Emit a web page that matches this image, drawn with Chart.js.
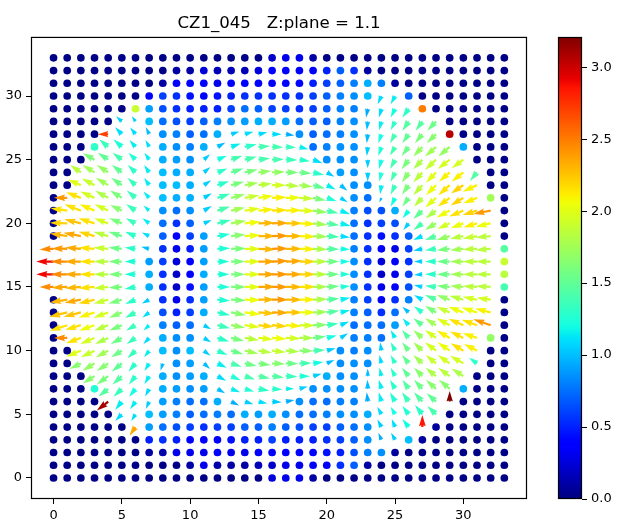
<!DOCTYPE html>
<html>
<head>
<meta charset="utf-8">
<style>
  body { margin: 0; background: #fff; }
  #wrap { position: relative; width: 621px; height: 528px; }
  canvas { position: absolute; top: 0; }
  #quiver { left: 0; }
  #colorbar { left: 540px; }
</style>
</head>
<body>
<div id="wrap">
  <canvas id="quiver" width="621" height="528"></canvas>
  <canvas id="colorbar" width="81" height="528"></canvas>
</div>
<script src="https://cdn.jsdelivr.net/npm/chart.js@4"></script>
<script>
const title = "CZ1_045   Z:plane = 1.1";
const xValues = [0,1,2,3,4,5,6,7,8,9,10,11,12,13,14,15,16,17,18,19,20,21,22,23,24,25,26,27,28,29,30,31,32,33];
const yValues = [33,32,31,30,29,28,27,26,25,24,23,22,21,20,19,18,17,16,15,14,13,12,11,10,9,8,7,6,5,4,3,2,1,0];
const axisTicks = [0,5,10,15,20,25,30];
const barTicks = [0,0.5,1,1.5,2,2.5,3];
const barRange = [0,3.21];

// colour value per grid point, top row (y=33) first
const colorRows = [
  [.02,.02,.02,.02,.02,.02,.02,.02,.02,.02,.02,.02,.02,.02,.02,.02,.2,.3,.3,.1,.02,.02,.02,.02,.02,.02,.02,.02,.02,.02,.02,.02,.02,.02],
  [.02,.02,.02,.02,.02,.02,.02,.02,.02,.1,.1,.25,.15,.15,.15,.25,.35,.35,.35,.4,.5,.7,.55,.1,.02,.02,.02,.02,.02,.02,.02,.02,.02,.02],
  [.02,.02,.02,.02,.02,.02,.02,.02,.1,.35,.35,.35,.3,.35,.35,.35,.4,.4,.4,.5,.6,.7,.8,.95,.8,.08,.02,.02,.02,.02,.02,.02,.02,.02],
  [.02,.02,.02,.02,.02,.02,.02,.35,.6,.55,.45,.4,.45,.5,.55,.55,.55,.55,.55,.6,.7,.8,.85,1.0,1.1,1.15,.7,.02,.02,.02,.02,.02,.02,.02],
  [.02,.02,.02,.02,.02,.02,1.9,.9,.65,.55,.5,.5,.5,.6,.75,.7,.6,.6,.55,.6,.7,.8,.8,.95,1.1,1.2,1.3,2.5,.02,.02,.02,.02,.02,.02],
  [.02,.02,.02,.02,.02,1.05,1.05,1.0,.75,.65,.6,.7,.8,.85,.9,.95,.95,.9,.75,.7,.7,.8,.85,1.0,1.15,1.3,1.45,1.45,1.55,.02,.02,.02,.02,.02],
  [.02,.02,.02,.02,2.7,1.1,1.1,1.0,.85,.8,.7,.75,.95,1.05,1.1,1.1,1.1,.95,.85,.7,.75,.8,.85,1.0,1.2,1.4,1.5,1.6,1.65,3.05,.02,.02,.02,.02],
  [.02,.02,.02,1.3,1.35,1.25,1.15,1.1,.95,.85,.8,.95,1.0,1.15,1.3,1.4,1.4,1.35,1.15,.75,.8,.85,.85,1.05,1.25,1.4,1.55,1.7,1.75,1.7,.95,.02,.02,.02],
  [.02,.02,.02,1.6,1.5,1.4,1.25,1.15,.95,.9,.85,1.05,1.2,1.4,1.4,1.4,1.4,1.35,1.3,1.1,.85,.85,.85,1.05,1.2,1.4,1.6,1.8,1.9,1.95,1.95,.02,.02,.02],
  [.02,.02,1.85,1.75,1.7,1.5,1.3,1.15,1.0,.95,.95,1.05,1.3,1.5,1.6,1.7,1.7,1.6,1.55,1.3,1.05,.9,.85,1.05,1.25,1.4,1.65,1.85,2.0,2.1,2.1,1.45,.02,.02],
  [.02,.02,2.0,1.9,1.75,1.55,1.35,1.15,1.0,1.0,.95,1.05,1.3,1.6,1.75,1.85,1.95,1.85,1.75,1.5,1.15,1.0,.85,.85,1.15,1.35,1.6,1.85,2.05,2.15,2.2,2.1,.02,.02],
  [.02,2.4,2.15,1.95,1.8,1.6,1.35,1.15,1.0,.95,.95,1.05,1.35,1.7,1.9,2.05,2.1,2.05,1.9,1.6,1.25,1.05,.85,.75,1.0,1.2,1.55,1.85,2.0,2.15,2.2,2.1,1.75,.02],
  [.02,2.15,2.15,2.1,1.95,1.65,1.35,1.15,.85,.75,.85,1.05,1.4,1.75,2.0,2.1,2.15,2.1,2.0,1.7,1.4,1.15,.8,.65,.65,.95,1.2,1.5,1.8,2.05,2.15,2.2,2.4,.02],
  [.02,2.2,2.25,2.15,1.95,1.6,1.35,1.15,.75,.55,.7,1.05,1.35,1.75,2.05,2.3,2.35,2.25,2.1,1.75,1.45,1.15,.75,.55,.6,.65,1.05,1.4,1.7,1.95,2.05,2.1,2.05,.02],
  [.02,2.3,2.35,2.2,1.85,1.55,1.3,1.1,.7,.4,.6,.9,1.25,1.65,2.05,2.3,2.4,2.3,2.1,1.75,1.4,1.1,.75,.55,.45,.55,.7,1.1,1.45,1.7,1.85,1.9,1.85,.02],
  [2.45,2.4,2.35,2.15,1.9,1.55,1.3,1.0,.55,.3,.5,.9,1.25,1.6,2.0,2.3,2.4,2.3,2.1,1.8,1.45,1.2,.8,.55,.35,.3,.6,1.05,1.35,1.6,1.75,1.85,1.85,1.45],
  [2.9,2.45,2.35,2.15,1.85,1.6,1.25,.9,.6,.25,.35,.9,1.25,1.6,2.0,2.35,2.4,2.35,2.2,1.85,1.55,1.2,.85,.55,.25,.35,.55,1.05,1.3,1.55,1.75,1.85,1.85,1.9],
  [2.9,2.45,2.35,2.15,1.85,1.6,1.25,.95,.55,.2,.4,.95,1.25,1.6,2.0,2.35,2.4,2.35,2.2,1.85,1.55,1.25,.85,.55,.2,.3,.6,1.05,1.3,1.55,1.75,1.85,1.85,1.85],
  [2.45,2.35,2.3,2.15,1.9,1.6,1.3,.95,.55,.2,.45,.9,1.25,1.6,2.0,2.35,2.4,2.3,2.15,1.8,1.55,1.25,.85,.55,.3,.35,.65,1.05,1.35,1.6,1.75,1.85,1.85,1.4],
  [.02,2.3,2.35,2.2,1.9,1.6,1.3,1.05,.55,.3,.55,.9,1.25,1.6,2.05,2.3,2.4,2.3,2.1,1.8,1.45,1.15,.8,.6,.4,.55,.8,1.1,1.45,1.7,1.85,1.95,1.95,.02],
  [.02,2.25,2.25,2.1,1.95,1.65,1.35,1.1,.65,.5,.6,.95,1.3,1.65,2.05,2.25,2.35,2.25,2.05,1.75,1.45,1.15,.8,.7,.55,.75,1.0,1.3,1.6,1.9,2.05,2.05,2.1,.02],
  [.02,2.15,2.15,2.05,1.85,1.6,1.35,1.15,.8,.7,.75,1.05,1.35,1.7,2.0,2.2,2.2,2.1,1.95,1.65,1.35,1.1,.75,.75,.75,.9,1.15,1.5,1.75,2.0,2.15,2.15,2.4,.02],
  [.02,2.45,2.15,1.95,1.8,1.55,1.35,1.1,.95,.85,.85,1.05,1.3,1.6,1.85,2.0,2.05,1.95,1.8,1.55,1.2,1.05,.8,.8,.75,1.15,1.45,1.7,1.95,2.1,2.15,2.1,1.7,.02],
  [.02,.02,2.0,1.9,1.75,1.55,1.35,1.15,1.0,.85,1.0,1.05,1.3,1.55,1.75,1.85,1.9,1.8,1.65,1.4,1.05,.85,.8,.85,1.05,1.3,1.55,1.75,1.95,2.05,2.15,2.1,.02,.02],
  [.02,.02,1.65,1.7,1.65,1.5,1.3,1.15,1.0,.85,.9,1.0,1.15,1.4,1.55,1.6,1.65,1.55,1.4,1.2,1.0,.85,.85,.85,1.1,1.3,1.5,1.75,1.9,1.95,1.95,1.3,.02,.02],
  [.02,.02,.02,1.65,1.6,1.45,1.3,1.15,.95,.85,.9,.95,1.1,1.25,1.4,1.45,1.45,1.35,1.25,1.05,.95,.85,.85,1.0,1.15,1.3,1.5,1.65,1.8,1.85,1.8,.02,.02,.02],
  [.02,.02,.02,1.25,1.45,1.35,1.2,1.1,.95,.9,.85,.9,1.0,1.15,1.25,1.3,1.3,1.15,1.05,.85,.85,.85,.85,1.0,1.15,1.3,1.45,1.55,1.65,1.65,.95,.02,.02,.02],
  [.02,.02,.02,.02,3.1,1.15,1.15,1.05,.9,.8,.75,.75,.95,.95,1.05,1.1,1.05,.95,.85,.75,.75,.8,.8,.95,1.15,1.25,1.35,1.45,1.5,3.2,.02,.02,.02,.02],
  [.02,.02,.02,.02,.02,1.1,1.1,1.0,.9,.8,.7,.75,.8,.75,.95,.9,.95,.85,.75,.75,.8,.85,.85,.95,1.1,1.2,1.25,1.3,1.4,.02,.02,.02,.02,.02],
  [.02,.02,.02,.02,.02,.02,2.35,.9,.75,.65,.6,.55,.6,.6,.7,.7,.8,.7,.65,.6,.6,.7,.75,.85,1.05,1.1,1.2,2.85,.08,.02,.02,.02,.02,.02],
  [.02,.02,.02,.02,.02,.02,.02,.5,.55,.5,.4,.4,.4,.45,.5,.5,.6,.5,.5,.5,.55,.6,.7,.85,.95,1.05,1.0,.1,.02,.02,.02,.02,.02,.02],
  [.02,.02,.02,.02,.02,.02,.02,.1,.12,.3,.3,.3,.35,.3,.3,.35,.35,.35,.35,.4,.45,.5,.65,.8,.85,.08,.02,.02,.02,.02,.02,.02,.02,.02],
  [.02,.02,.02,.02,.02,.02,.02,.02,.02,.02,.1,.3,.12,.1,.1,.15,.2,.3,.3,.35,.4,.55,.7,.1,.02,.02,.02,.02,.02,.02,.02,.02,.02,.02],
  [.02,.02,.02,.02,.02,.02,.02,.02,.02,.02,.02,.02,.02,.02,.02,.02,.25,.3,.3,.1,.02,.02,.02,.02,.02,.02,.02,.02,.02,.02,.02,.02,.02,.02]
];

// arrow x component, same order; 0,0 means the point is only a dot
const uRows = [
  [0,0,0,0,0,0,0,0,0,0,0,0,0,0,0,0,0,0,0,0,0,0,0,0,0,0,0,0,0,0,0,0,0,0],
  [0,0,0,0,0,0,0,0,0,0,0,0,0,0,0,0,0,0,0,0,0,0,0,0,0,0,0,0,0,0,0,0,0,0],
  [0,0,0,0,0,0,0,0,0,0,0,0,0,0,0,0,0,0,0,0,0,0,0,0,0,0,0,0,0,0,0,0,0,0],
  [0,0,0,0,0,0,0,0,0,0,0,0,0,0,0,0,0,0,0,0,0,0,0,0,-11,-13,0,0,0,0,0,0,0,0],
  [0,0,0,0,0,0,0,0,0,0,0,0,0,0,0,0,0,0,0,0,0,0,0,-5,-7,-13,-19,0,0,0,0,0,0,0],
  [0,0,0,0,0,-17,-11,0,0,0,0,0,0,0,0,0,0,0,0,0,0,0,0,-3,-7,-13,-19,-20,-26,0,0,0,0,0],
  [0,0,0,0,-31,-20,-16,-10,0,0,0,0,0,25,26,27,29,26,0,0,0,0,0,-3,-9,-15,-19,-22,-28,0,0,0,0,0],
  [0,0,0,0,-27,-25,-18,-11,0,0,0,0,24,29,36,35,34,31,27,0,0,0,0,-3,-9,-15,-21,-27,-33,-34,0,0,0,0],
  [0,0,0,-35,-31,-28,-21,-14,0,0,0,19,28,34,36,35,36,35,32,28,0,0,0,0,-7,-15,-21,-27,-33,-36,-35,0,0,0],
  [0,0,-32,-36,-34,-30,-23,-15,0,0,0,20,30,37,39,39,39,38,37,33,23,0,0,0,-6,-13,-20,-27,-30,-32,-35,-21,0,0],
  [0,0,-40,-38,-37,-32,-24,-15,0,0,0,22,35,39,41,41,42,41,40,36,27,21,0,0,-4,-13,-20,-27,-30,-34,-37,-43,0,0],
  [0,-40,-44,-43,-39,-35,-26,-17,0,0,0,24,38,42,44,45,44,45,44,39,30,22,0,0,-6,-13,-19,-25,-32,-36,-38,-41,0,0],
  [0,-50,-49,-45,-41,-35,-28,-17,0,0,0,24,38,42,46,47,46,48,47,43,35,29,0,0,0,0,-18,-27,-31,-39,-43,-43,-52,0],
  [0,-52,-50,-48,-42,-38,-29,-20,0,0,0,24,40,45,48,50,49,50,49,43,38,31,0,0,0,0,-16,-27,-33,-37,-38,-41,-45,0],
  [0,-52,-52,-48,-44,-40,-31,-22,0,0,0,0,38,43,48,52,49,50,49,44,38,29,0,0,0,0,0,-27,-33,-39,-40,-43,-45,0],
  [-42,-47,-47,-48,-44,-40,-33,-24,0,0,0,0,38,45,48,52,49,50,49,44,38,29,0,0,0,0,0,-27,-33,-39,-40,-43,-45,0],
  [-52,-50,-49,-45,-44,-40,-33,0,0,0,0,0,36,42,48,52,49,50,49,44,38,29,0,0,0,0,0,-25,-33,-39,-40,-43,-45,0],
  [-52,-50,-49,-45,-44,-40,-33,0,0,0,0,0,36,42,48,52,49,50,49,44,38,29,0,0,0,0,0,-25,-33,-39,-40,-43,-45,0],
  [-42,-47,-47,-48,-44,-40,-33,0,0,0,0,0,38,45,48,52,49,50,49,44,38,29,0,0,0,0,0,-25,-33,-39,-40,-43,-45,0],
  [0,-52,-49,-48,-44,-40,-31,-22,0,0,0,0,38,45,48,50,49,50,49,44,38,29,0,0,0,0,0,-25,-33,-39,-42,-43,-42,0],
  [0,-54,-52,-48,-44,-38,-31,-20,0,0,0,0,38,45,48,50,49,50,49,44,38,29,0,0,0,0,-19,-25,-33,-39,-45,-46,-47,0],
  [0,-52,-47,-46,-42,-37,-28,-17,0,0,0,22,38,42,46,47,46,48,47,43,35,26,0,0,0,0,-18,-27,-33,-39,-45,-46,-52,0],
  [0,-40,-44,-43,-39,-33,-26,-17,0,0,0,22,35,39,43,45,44,45,44,39,30,23,0,0,0,-13,-20,-27,-33,-39,-40,-43,0,0],
  [0,0,-44,-41,-37,-32,-24,-15,0,0,0,20,30,37,41,41,42,41,42,36,27,0,0,0,-4,-13,-20,-27,-33,-36,-38,-39,0,0],
  [0,0,-34,-36,-34,-30,-21,-14,-7,0,0,19,28,32,36,37,39,38,37,31,23,0,0,0,-6,-13,-20,-27,-31,-36,-40,-24,0,0],
  [0,0,0,-35,-34,-28,-20,-14,0,0,0,0,26,29,31,35,36,35,32,26,0,0,0,0,-6,-13,-20,-25,-31,-34,-35,0,0,0],
  [0,0,0,0,-29,-25,-19,-12,0,0,0,0,23,27,28,33,31,25,25,0,0,0,0,-1,-8,-15,-19,-25,-30,-32,0,0,0,0],
  [0,0,0,0,-34,-20,-16,-10,0,0,0,0,0,24,26,27,29,26,0,0,0,0,0,-3,-8,-15,-20,-25,-28,0,0,0,0,0],
  [0,0,0,0,0,-20,-13,0,0,0,0,0,0,0,0,0,0,0,0,0,0,0,0,0,-12,-13,-19,-22,-26,0,0,0,0,0],
  [0,0,0,0,0,0,-18,0,0,0,0,0,0,0,0,0,0,0,0,0,0,0,0,0,-12,-10,-19,0,0,0,0,0,0,0],
  [0,0,0,0,0,0,0,0,0,0,0,0,0,0,0,0,0,0,0,0,0,0,0,0,-9,-12,0,0,0,0,0,0,0,0],
  [0,0,0,0,0,0,0,0,0,0,0,0,0,0,0,0,0,0,0,0,0,0,0,0,0,0,0,0,0,0,0,0,0,0],
  [0,0,0,0,0,0,0,0,0,0,0,0,0,0,0,0,0,0,0,0,0,0,0,0,0,0,0,0,0,0,0,0,0,0],
  [0,0,0,0,0,0,0,0,0,0,0,0,0,0,0,0,0,0,0,0,0,0,0,0,0,0,0,0,0,0,0,0,0,0]
];

// arrow y component, up is positive
const vRows = [
  [0,0,0,0,0,0,0,0,0,0,0,0,0,0,0,0,0,0,0,0,0,0,0,0,0,0,0,0,0,0,0,0,0,0],
  [0,0,0,0,0,0,0,0,0,0,0,0,0,0,0,0,0,0,0,0,0,0,0,0,0,0,0,0,0,0,0,0,0,0],
  [0,0,0,0,0,0,0,0,0,0,0,0,0,0,0,0,0,0,0,0,0,0,0,0,0,0,0,0,0,0,0,0,0,0],
  [0,0,0,0,0,0,0,0,0,0,0,0,0,0,0,0,0,0,0,0,0,0,0,0,-25,-25,0,0,0,0,0,0,0,0],
  [0,0,0,0,0,0,0,0,0,0,0,0,0,0,0,0,0,0,0,0,0,0,0,-26,-26,-26,-26,0,0,0,0,0,0,0],
  [0,0,0,0,0,16,16,0,0,0,0,0,0,0,0,0,0,0,0,0,0,0,0,-26,-26,-26,-28,-28,-28,0,0,0,0,0],
  [0,0,0,0,0,21,20,21,0,0,0,0,0,8,7,6,0,-4,0,0,0,0,0,-27,-27,-27,-27,-27,-27,0,0,0,0,0],
  [0,0,0,0,23,23,21,21,0,0,0,0,13,10,8,3,-1,-2,-7,0,0,0,0,-27,-27,-26,-27,-29,-29,-29,0,0,0,0],
  [0,0,0,19,21,21,21,21,0,0,0,16,12,12,9,4,1,-1,-5,-11,0,0,0,-26,-28,-28,-29,-29,-31,-28,-26,0,0,0],
  [0,0,22,22,22,22,22,22,0,0,0,16,12,12,9,4,2,0,-3,-8,-13,0,0,-27,-27,-28,-30,-30,-31,-28,-28,-26,0,0],
  [0,0,17,20,22,22,22,22,0,0,0,15,12,10,7,5,0,-3,-5,-10,-13,-17,0,0,-27,-28,-28,-30,-30,-30,-25,-20,0,0],
  [0,0,17,19,21,22,22,19,0,0,0,14,12,11,8,6,2,1,-3,-8,-10,-13,0,0,-14,-26,-26,-26,-29,-26,-23,-16,0,0],
  [0,7,19,19,19,17,19,15,0,0,0,14,12,9,7,4,2,1,-1,-6,-8,-11,0,0,0,0,-23,-25,-23,-21,-18,-13,-10,0],
  [0,2,12,15,15,15,15,15,0,0,0,10,10,8,5,2,1,0,-2,-5,-6,-8,0,0,0,0,-20,-20,-20,-17,-15,-12,-10,0],
  [0,8,10,13,13,13,13,11,0,0,0,0,6,5,3,0,1,0,-2,-2,-3,-4,0,0,0,0,0,-12,-12,-12,-8,-7,-4,0],
  [-2,1,4,4,4,4,4,6,0,0,0,0,2,1,0,-2,1,0,-1,-2,-1,-2,0,0,0,0,0,-6,-4,-4,-4,-2,-4,0],
  [0,0,0,0,0,0,0,0,0,0,0,0,0,0,0,0,2,2,0,0,0,0,0,0,0,0,0,0,0,0,0,0,0,0],
  [0,0,0,0,0,0,0,0,0,0,0,0,0,0,0,0,0,0,0,0,0,0,0,0,0,0,0,-2,0,0,0,0,0,0],
  [0,-2,-4,-4,-4,-2,-6,0,0,0,0,0,0,0,0,1,0,0,1,1,2,3,0,0,0,0,0,6,4,4,4,3,3,0],
  [0,-8,-9,-11,-11,-11,-13,-11,0,0,0,0,-3,-2,-1,1,0,0,1,2,4,6,0,0,0,0,0,14,14,14,12,9,6,0],
  [0,-13,-13,-15,-16,-16,-16,-15,0,0,0,0,-8,-8,-6,-3,-1,0,0,2,5,7,0,0,0,0,17,19,20,17,17,15,12,0],
  [0,-17,-14,-16,-16,-16,-16,-16,0,0,0,-12,-9,-8,-6,-5,-4,-3,-1,1,5,11,0,0,0,0,21,21,21,21,19,16,18,0],
  [0,0,-16,-18,-18,-18,-18,-18,0,0,0,-13,-11,-9,-7,-5,-3,-2,0,4,7,14,0,0,0,24,24,24,24,22,19,14,0,0],
  [0,0,-18,-20,-20,-20,-23,-20,0,0,0,-15,-13,-11,-9,-6,-5,-3,-1,2,7,0,0,0,25,25,25,25,25,25,22,20,0,0],
  [0,0,-17,-22,-23,-25,-25,-23,-22,0,0,-17,-13,-10,-8,-5,-2,-1,1,4,10,0,0,0,25,25,25,25,25,25,23,17,0,0],
  [0,0,0,-22,-25,-25,-25,-24,0,0,0,0,-14,-12,-10,-7,-4,-2,0,7,0,0,0,23,25,25,25,25,25,25,23,0,0,0],
  [0,0,0,0,-23,-24,-24,-23,0,0,0,0,-13,-10,-8,-6,-2,0,7,0,0,0,0,27,27,27,27,27,27,27,0,0,0,0],
  [0,0,0,0,-27,-25,-23,-22,0,0,0,0,0,-12,-8,-6,-2,5,0,0,0,0,0,28,28,28,28,28,25,32,0,0,0,0],
  [0,0,0,0,0,-20,-20,0,0,0,0,0,0,0,0,0,0,0,0,0,0,0,0,0,23,23,25,28,25,0,0,0,0,0],
  [0,0,0,0,0,0,-26,0,0,0,0,0,0,0,0,0,0,0,0,0,0,0,0,0,23,24,24,36,0,0,0,0,0,0],
  [0,0,0,0,0,0,0,0,0,0,0,0,0,0,0,0,0,0,0,0,0,0,0,0,21,21,0,0,0,0,0,0,0,0],
  [0,0,0,0,0,0,0,0,0,0,0,0,0,0,0,0,0,0,0,0,0,0,0,0,0,0,0,0,0,0,0,0,0,0],
  [0,0,0,0,0,0,0,0,0,0,0,0,0,0,0,0,0,0,0,0,0,0,0,0,0,0,0,0,0,0,0,0,0,0],
  [0,0,0,0,0,0,0,0,0,0,0,0,0,0,0,0,0,0,0,0,0,0,0,0,0,0,0,0,0,0,0,0,0,0]
];

const fontFamily = "'DejaVu Sans'";
const quiverScale = 3; // arrow units per pixel
const shaftWidth = 2.25;

// matplotlib's jet segments, [position, level]
const jetRed = [[0,0],[.35,0],[.66,1],[.89,1],[1,.5]];
const jetGreen = [[0,0],[.125,0],[.375,1],[.64,1],[.91,0],[1,0]];
const jetBlue = [[0,.5],[.11,1],[.34,1],[.65,0],[1,0]];

function segmentLevel(segments, t) {
  for (let i = 1; i < segments.length; i++) {
    if (t <= segments[i][0]) {
      const a = segments[i - 1];
      const b = segments[i];
      return a[1] + ((t - a[0]) / (b[0] - a[0])) * (b[1] - a[1]);
    }
  }
  return segments[segments.length - 1][1];
}

function jet(t) {
  const r = Math.round(255 * segmentLevel(jetRed, t));
  const g = Math.round(255 * segmentLevel(jetGreen, t));
  const b = Math.round(255 * segmentLevel(jetBlue, t));
  return "rgb(" + r + "," + g + "," + b + ")";
}

function valueColor(value) {
  return jet(value / barRange[1]);
}

const dotPoints = [];
const arrowPoints = [];
yValues.forEach((y, row) => {
  xValues.forEach((x, col) => {
    const u = uRows[row][col];
    const v = vRows[row][col];
    const point = { x: x, y: y, u: u, v: v, c: colorRows[row][col] };
    if (u === 0 && v === 0) {
      dotPoints.push(point);
    } else {
      arrowPoints.push(point);
    }
  });
});

// same outline matplotlib's quiver builds: shaft plus swept back head
function drawArrow(ctx, el, point) {
  const dx = point.u / quiverScale;
  const dy = -point.v / quiverScale;
  const len = Math.hypot(dx, dy);
  const headLen = 5 * shaftWidth;
  const axisLen = 4.5 * shaftWidth;
  const k = len < headLen ? len / headLen : 1;
  const half = (shaftWidth / 2) * k;
  const headHalf = (3 * shaftWidth / 2) * k;
  const neck = len - axisLen * k;
  const back = len - headLen * k;
  ctx.save();
  ctx.translate(el.x, el.y);
  ctx.rotate(Math.atan2(dy, dx));
  ctx.fillStyle = valueColor(point.c);
  ctx.beginPath();
  ctx.moveTo(0, -half);
  ctx.lineTo(neck, -half);
  ctx.lineTo(back, -headHalf);
  ctx.lineTo(len, 0);
  ctx.lineTo(back, headHalf);
  ctx.lineTo(neck, half);
  ctx.lineTo(0, half);
  ctx.closePath();
  ctx.fill();
  ctx.restore();
}

const quiverPlugin = {
  id: "quiver",
  afterDatasetsDraw(chart) {
    const meta = chart.getDatasetMeta(1);
    meta.data.forEach((el, i) => drawArrow(chart.ctx, el, arrowPoints[i]));
  },
};

const framePlugin = {
  id: "frame",
  afterDraw(chart) {
    const a = chart.chartArea;
    const ctx = chart.ctx;
    ctx.save();
    ctx.strokeStyle = "#000";
    ctx.lineWidth = 1.2;
    ctx.strokeRect(a.left + 0.5, a.top + 0.5, a.right - a.left - 1, a.bottom - a.top - 1);
    ctx.restore();
  },
};

function axisOptions(min, max, size) {
  return {
    type: "linear",
    min: min,
    max: max,
    afterBuildTicks: (scale) => {
      scale.ticks = axisTicks.map((v) => ({ value: v }));
    },
    afterFit: (scale) => {
      if (scale.isHorizontal()) scale.height = size;
      else scale.width = size;
    },
    grid: { display: true, drawOnChartArea: false, drawTicks: true, tickLength: 5, color: "#000" },
    border: { display: false },
    ticks: {
      color: "#000",
      font: { family: fontFamily, size: 13 },
      padding: 4,
      maxRotation: 0,
      autoSkip: false,
    },
  };
}

new Chart(document.getElementById("quiver"), {
  type: "scatter",
  plugins: [quiverPlugin, framePlugin],
  data: {
    datasets: [
      {
        data: dotPoints,
        pointRadius: 3.85,
        pointBorderWidth: 0,
        pointBackgroundColor: dotPoints.map((p) => valueColor(p.c)),
      },
      {
        data: arrowPoints,
        pointRadius: 0,
      },
    ],
  },
  options: {
    responsive: false,
    animation: false,
    layout: { padding: { left: 0, right: 94, top: 0, bottom: 0 } },
    scales: {
      x: axisOptions(-1.65, 34.66, 29),
      y: axisOptions(-1.65, 34.64, 31),
    },
    plugins: {
      legend: { display: false },
      tooltip: { enabled: false },
      title: {
        display: true,
        text: title,
        fullSize: false,
        color: "#000",
        font: { family: fontFamily, size: 16.6, weight: "normal" },
        padding: { top: 14, bottom: 3 },
      },
    },
  },
});

function barGradient(context) {
  const area = context.chart.chartArea;
  if (!area) return "#000";
  const g = context.chart.ctx.createLinearGradient(0, area.bottom, 0, area.top);
  for (let i = 0; i <= 100; i++) {
    g.addColorStop(i / 100, jet(i / 100));
  }
  return g;
}

new Chart(document.getElementById("colorbar"), {
  type: "bar",
  plugins: [framePlugin],
  data: {
    labels: [""],
    datasets: [
      {
        data: [barRange],
        backgroundColor: barGradient,
        barPercentage: 1,
        categoryPercentage: 1,
      },
    ],
  },
  options: {
    responsive: false,
    animation: false,
    layout: { padding: { left: 18, right: 0, top: 37, bottom: 29 } },
    scales: {
      x: { display: false },
      y: {
        position: "right",
        min: barRange[0],
        max: barRange[1],
        afterBuildTicks: (scale) => {
          scale.ticks = barTicks.map((v) => ({ value: v }));
        },
        afterFit: (scale) => {
          scale.width = 39;
        },
        grid: { display: true, drawOnChartArea: false, drawTicks: true, tickLength: 5, color: "#000" },
        border: { display: false },
        ticks: {
          color: "#000",
          font: { family: fontFamily, size: 13 },
          padding: 4,
          callback: (v) => v.toFixed(1),
        },
      },
    },
    plugins: {
      legend: { display: false },
      tooltip: { enabled: false },
    },
  },
});
</script>
</body>
</html>
